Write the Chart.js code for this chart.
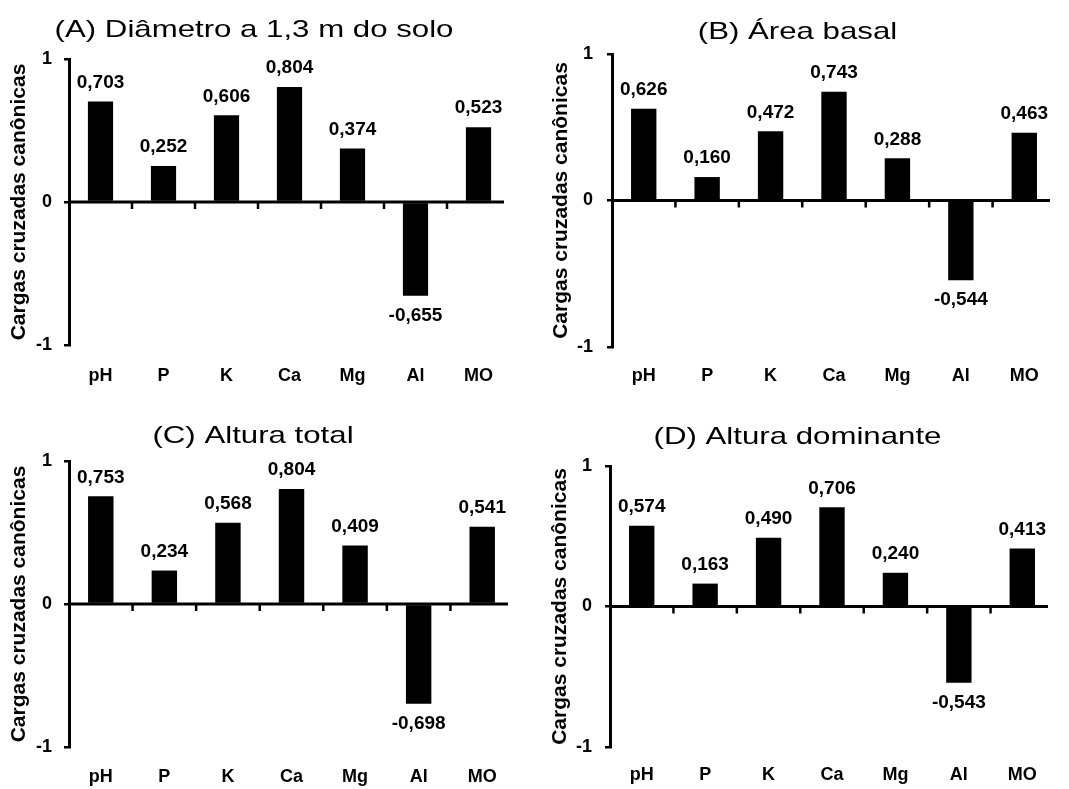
<!DOCTYPE html>
<html>
<head>
<meta charset="utf-8">
<script src="https://cdn.jsdelivr.net/npm/chart.js@4/dist/chart.umd.min.js"></script>
<style>
    body { margin: 0; background: #fff; }
    canvas { position: absolute; }
</style>
</head>
<body>
<canvas id="chartA" width="520" height="395" style="left:0;top:0"></canvas>
<canvas id="chartB" width="535" height="395" style="left:530px;top:0"></canvas>
<canvas id="chartC" width="520" height="389" style="left:0;top:400px"></canvas>
<canvas id="chartD" width="535" height="389" style="left:530px;top:400px"></canvas>
<script>
const categories = ['pH', 'P', 'K', 'Ca', 'Mg', 'Al', 'MO'];
const diametro = [0.703, 0.252, 0.606, 0.804, 0.374, -0.655, 0.523];
const areaBasal = [0.626, 0.160, 0.472, 0.743, 0.288, -0.544, 0.463];
const alturaTotal = [0.753, 0.234, 0.568, 0.804, 0.409, -0.698, 0.541];
const alturaDominante = [0.574, 0.163, 0.490, 0.706, 0.240, -0.543, 0.413];
const yTicks = [-1, 0, 1];
const yTitle = 'Cargas cruzadas canônicas';
const titles = ['(A) Diâmetro a 1,3 m do solo', '(B) Área basal', '(C) Altura total', '(D) Altura dominante'];

const FONT = '"Liberation Sans", Arial, sans-serif';

function fmt(v) {
    return v.toFixed(3).replace('.', ',');
}

// stretched panel title, the original uses a wide font
const panelTitle = {
    id: 'panelTitle',
    afterDraw(chart, args, opts) {
        const ctx = chart.ctx;
        ctx.save();
        ctx.font = '24px ' + FONT;
        ctx.fillStyle = '#000';
        ctx.textAlign = 'center';
        ctx.textBaseline = 'alphabetic';
        ctx.translate(opts.x, opts.y);
        ctx.scale(1.3, 1);
        ctx.fillText(opts.text, 0, 0);
        ctx.restore();
    }
};

// zero line with small ticks between categories
const zeroAxis = {
    id: 'zeroAxis',
    afterDatasetsDraw(chart) {
        const ctx = chart.ctx;
        const x = chart.scales.x;
        const y0 = chart.scales.y.getPixelForValue(0);
        const area = chart.chartArea;
        ctx.save();
        ctx.strokeStyle = '#000';
        ctx.lineWidth = 3;
        ctx.beginPath();
        ctx.moveTo(area.left, y0);
        ctx.lineTo(area.right - 6, y0);
        ctx.stroke();
        ctx.lineWidth = 2.5;
        for (let i = 0; i < categories.length - 1; i++) {
            const bx = (x.getPixelForValue(i) + x.getPixelForValue(i + 1)) / 2;
            ctx.beginPath();
            ctx.moveTo(bx, y0);
            ctx.lineTo(bx, y0 + 7);
            ctx.stroke();
        }
        ctx.restore();
    }
};

const valueLabels = {
    id: 'valueLabels',
    afterDatasetsDraw(chart) {
        const ctx = chart.ctx;
        const meta = chart.getDatasetMeta(0);
        const data = chart.data.datasets[0].data;
        ctx.save();
        ctx.font = 'bold 19px ' + FONT;
        ctx.fillStyle = '#000';
        ctx.textAlign = 'center';
        ctx.textBaseline = 'middle';
        meta.data.forEach((bar, i) => {
            const v = data[i];
            const ty = v >= 0 ? bar.y - 19 : bar.y + 20;
            ctx.fillText(fmt(v), bar.x, ty);
        });
        ctx.restore();
    }
};

function makePanel(id, values, title, g) {
    const ctx = document.getElementById(id).getContext('2d');
    return new Chart(ctx, {
        type: 'bar',
        data: {
            labels: categories,
            datasets: [{
                data: values,
                backgroundColor: '#000',
                borderWidth: 0,
                barPercentage: 0.4,
                categoryPercentage: 1
            }]
        },
        options: {
            responsive: false,
            animation: false,
            devicePixelRatio: 1,
            layout: { padding: { top: g.top, right: g.right, bottom: 0, left: 0 } },
            plugins: {
                legend: { display: false },
                tooltip: { enabled: false },
                panelTitle: { text: title, x: g.titleX, y: g.titleY }
            },
            scales: {
                x: {
                    grid: { display: false, drawTicks: false },
                    border: { display: false },
                    ticks: {
                        color: '#000',
                        font: { family: FONT, size: 18, weight: 'bold' },
                        padding: g.xPad,
                        maxRotation: 0
                    },
                    afterFit: s => { s.height = g.xHeight; }
                },
                y: {
                    min: -1,
                    max: 1,
                    afterBuildTicks: s => { s.ticks = yTicks.map(v => ({ value: v })); },
                    grid: {
                        drawOnChartArea: false,
                        drawTicks: true,
                        tickLength: 5,
                        color: '#000',
                        lineWidth: 2.5
                    },
                    border: { display: true, color: '#000', width: 3 },
                    ticks: {
                        color: '#000',
                        font: { family: FONT, size: 18, weight: 'bold' },
                        padding: g.yPad,
                        callback: v => String(v)
                    },
                    title: {
                        display: true,
                        text: yTitle,
                        color: '#000',
                        font: { family: FONT, size: 21, weight: 'bold' },
                        padding: { top: g.titlePad, bottom: 0 }
                    },
                    afterFit: s => { s.width = g.yWidth; }
                }
            }
        },
        plugins: [zeroAxis, valueLabels, panelTitle]
    });
}

makePanel('chartA', diametro, titles[0],
    { top: 59, right: 10, xHeight: 50, xPad: 20, yWidth: 69, yPad: 12, titlePad: 7, titleX: 254, titleY: 37 });
makePanel('chartB', areaBasal, titles[1],
    { top: 54, right: 9, xHeight: 48, xPad: 18, yWidth: 82, yPad: 14, titlePad: 19, titleX: 267.5, titleY: 39 });
makePanel('chartC', alturaTotal, titles[2],
    { top: 61, right: 6, xHeight: 42, xPad: 19, yWidth: 69, yPad: 12, titlePad: 7, titleX: 253, titleY: 43 });
makePanel('chartD', alturaDominante, titles[3],
    { top: 66, right: 11, xHeight: 42, xPad: 17, yWidth: 80, yPad: 13, titlePad: 18, titleX: 267.5, titleY: 44 });
</script>
</body>
</html>
